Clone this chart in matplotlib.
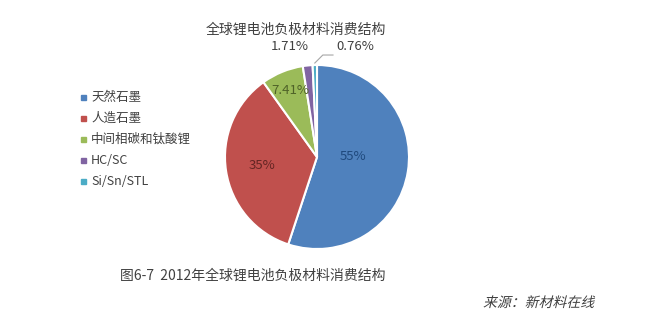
import numpy as np
import matplotlib
matplotlib.use("Agg")
import matplotlib.pyplot as plt
from matplotlib.textpath import TextPath
from matplotlib.patches import PathPatch
from matplotlib.font_manager import FontProperties
from matplotlib.transforms import Affine2D

plt.rcParams['font.family'] = ['Noto Sans CJK SC', 'DejaVu Sans']

labels = ['天然石墨', '人造石墨', '中间相碳和钛酸锂', 'HC/SC', 'Si/Sn/STL']
values = [55, 35, 7.41, 1.71, 0.76]
pct_text = ['55%', '35%', '7.41%', '1.71%', '0.76%']
colors = ['#4F81BD', '#C0504D', '#9BBB59', '#8064A2', '#4BACC6']
text_colors = ['#1F497D', '#632523', '#4F6228', '#404040', '#404040']

W, H = 663, 318
fig = plt.figure(figsize=(W / 100, H / 100), dpi=100)
fig.patch.set_facecolor('white')

# pie axes: center (317,157) px, radius 92 px
cx, cy, r = 317, 157, 92
half = 100
ax = fig.add_axes([(cx - half) / W, (H - cy - half) / H, 2 * half / W, 2 * half / H])

wedges, _ = ax.pie(values, colors=colors, startangle=90, counterclock=False,
                   radius=r, center=(0, 0), frame=True,
                   wedgeprops=dict(edgecolor='white', linewidth=1.5))
ax.set_xlim(-half, half)
ax.set_ylim(-half, half)
ax.set_aspect('equal')
ax.axis('off')

# inside labels for the three large slices
for i, rr in zip(range(3), [0.4, 0.6, 0.78]):
    w = wedges[i]
    ang = np.deg2rad((w.theta1 + w.theta2) / 2)
    ax.text(rr * r * np.cos(ang), rr * r * np.sin(ang) + (6 if i == 0 else 0), pct_text[i],
            ha='center', va='center', fontsize=9.5, color=text_colors[i])

def px(x, y):
    return x / W, 1 - y / H

# outside labels for the two small slices
fig.text(*px(290, 46), pct_text[3], ha='center', va='center', fontsize=9.5, color='#404040')
fig.text(*px(336, 47), pct_text[4], ha='left', va='center', fontsize=9.5, color='#404040')
w = wedges[4]
ang = np.deg2rad((w.theta1 + w.theta2) / 2)
x0, y0 = r * np.cos(ang), r * np.sin(ang)
ax.plot([x0, x0 + 8, 16], [y0 + 2, y0 + 10, y0 + 10], color='#A6A6A6', lw=0.8,
        clip_on=False)

fig.text(*px(296, 30), '全球锂电池负极材料消费结构', ha='center', va='center',
         fontsize=10, color='#404040')

# legend
for i, (lab, c) in enumerate(zip(labels, colors)):
    y = 97 + i * 21.2
    fig.patches.append(plt.Rectangle(px(81, y + 2.5), 5 / W, 5 / H,
                                     transform=fig.transFigure, color=c))
    fig.text(*px(91, y), lab, ha='left', va='center', fontsize=9, color='#404040')

fig.text(*px(120, 276), '图6-7  2012年全球锂电池负极材料消费结构', ha='left', va='center',
         fontsize=10, color='#404040')

# source line, slanted by hand since the CJK font has no italic face
src = TextPath((0, 0), '来源：新材料在线', size=10 * 100 / 72,
               prop=FontProperties(family='Noto Sans CJK SC'))
t = Affine2D().skew_deg(14, 0).translate(483, H - 307)
fig.add_artist(PathPatch(src, transform=t, facecolor='#404040', edgecolor='none'))

fig.savefig('out.png', dpi=100, facecolor='white')
